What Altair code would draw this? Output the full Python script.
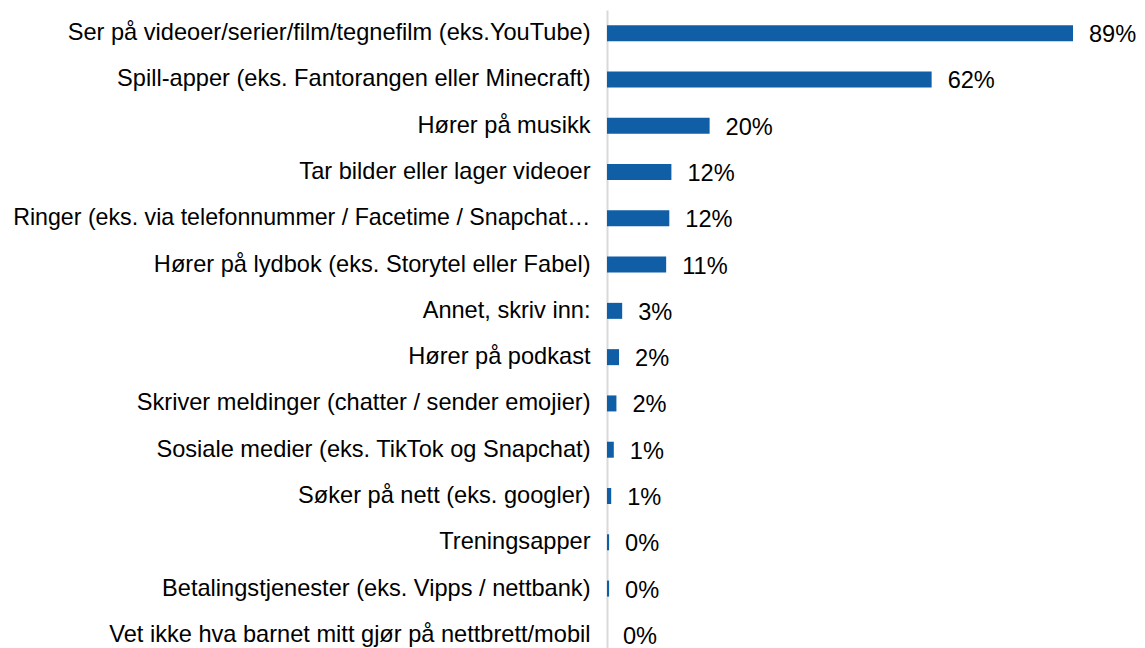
import altair as alt
import pandas as pd

categories = [
    "Ser på videoer/serier/film/tegnefilm (eks.YouTube)",
    "Spill-apper (eks. Fantorangen eller Minecraft)",
    "Hører på musikk",
    "Tar bilder eller lager videoer",
    "Ringer (eks. via telefonnummer / Facetime / Snapchat…",
    "Hører på lydbok (eks. Storytel eller Fabel)",
    "Annet, skriv inn:",
    "Hører på podkast",
    "Skriver meldinger (chatter / sender emojier)",
    "Sosiale medier (eks. TikTok og Snapchat)",
    "Søker på nett (eks. googler)",
    "Treningsapper",
    "Betalingstjenester (eks. Vipps / nettbank)",
    "Vet ikke hva barnet mitt gjør på nettbrett/mobil",
]
values = [89.0, 62.0, 19.6, 12.3, 11.9, 11.3, 2.9, 2.3, 1.8, 1.3, 0.8, 0.4, 0.4, 0.0]
labels = ["89%", "62%", "20%", "12%", "12%", "11%", "3%", "2%", "2%", "1%", "1%", "0%", "0%", "0%"]

df = pd.DataFrame({"kategori": categories, "verdi": values, "etikett": labels})

FONT = "Liberation Sans"
FS = 23.6

y_enc = alt.Y(
    "kategori:N",
    sort=categories,
    scale=alt.Scale(paddingInner=0, paddingOuter=0),
    axis=alt.Axis(
        title=None,
        ticks=False,
        labelFont=FONT,
        labelFontSize={"condition": {"test": "indexof(datum.label, 'Ringer') == 0", "value": 23.2}, "value": FS},
        labelColor="#000000",
        labelPadding=17,
        labelLimit=640,
        domainColor="#d9d9d9",
        domainWidth=2,
        grid=False,
    ),
)
x_enc = alt.X(
    "verdi:Q",
    scale=alt.Scale(domain=[0, 89], nice=False, zero=True),
    axis=None,
)

bars = alt.Chart(df).mark_bar(size=16, color="#105ea6").encode(x=x_enc, y=y_enc)

text = alt.Chart(df).mark_text(
    align="left", baseline="middle", dx=16, dy=2,
    font=FONT, fontSize=FS, color="#000000",
).encode(x=x_enc, y=y_enc, text="etikett:N")

chart = (
    alt.layer(bars, text)
    .properties(
        width=466,
        height=648,
        autosize=alt.AutoSizeParams(type="none"),
        padding={"left": 599, "top": 2, "right": 64, "bottom": 0},
    )
    .configure_view(stroke=None)
)

chart.save("out.html", embed_options={"renderer": "svg", "actions": False})
